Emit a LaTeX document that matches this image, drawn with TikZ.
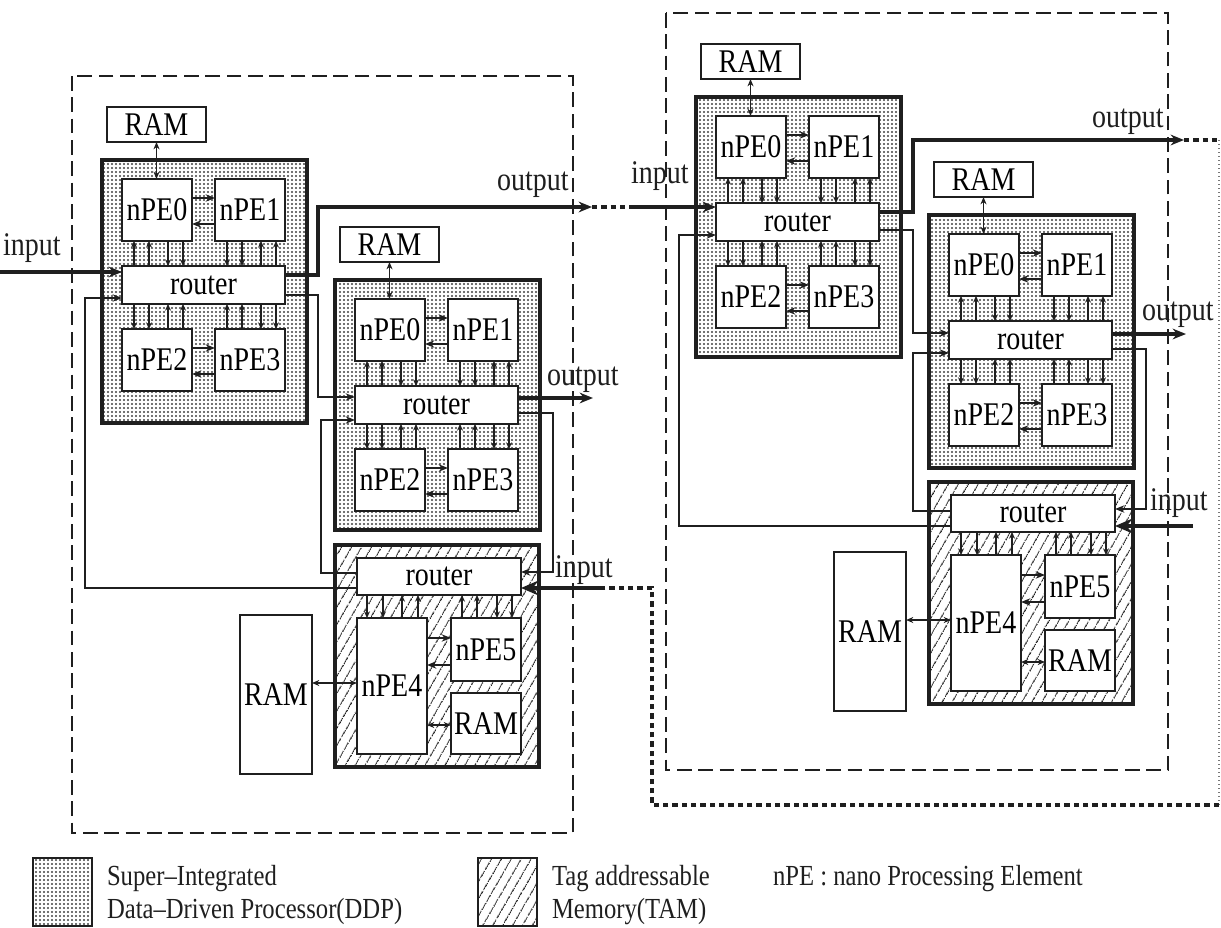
\documentclass[tikz,border=0pt]{standalone}
\usepackage{fontspec}
\setmainfont{Liberation Serif}
\usetikzlibrary{arrows.meta,patterns,patterns.meta,calc}
\definecolor{ink}{gray}{0.12}
\newcommand{\lblfont}{\fontsize{21}{23}\selectfont}
\newcommand{\legfont}{\fontsize{18.5}{22}\selectfont}
\newcommand{\talltext}[1]{\scalebox{1}[1.18]{#1}}
\tikzset{
  bx/.style 2 args={minimum width=#1*0.75pt, minimum height=#2*0.75pt, inner sep=0pt, outer sep=0pt, anchor=north west},
  ddp/.style={draw=ink, line width=2.8pt, pattern={Dots[distance=3pt,radius=0.8pt]}, pattern color=ink!85},
  tam/.style={draw=ink, line width=2.8pt, pattern={Lines[angle=60,distance=6.5pt,line width=0.8pt]}, pattern color=ink},
  pe/.style={draw=ink, fill=white, line width=2.1pt, font=\lblfont},
  rt/.style={draw=ink, fill=white, line width=1.3pt, font=\lblfont},
  ram/.style={draw=ink, fill=white, line width=2.1pt, font=\lblfont},
  lbl/.style={inner sep=0pt, outer sep=0pt, font=\lblfont, text=ink},
  legtxt/.style={inner sep=0pt, outer sep=0pt, font=\legfont, text=ink, anchor=base west},
  outerbox/.style={draw=ink, line width=1.2pt, dash pattern=on 11pt off 5pt},
  dotlink/.style={draw=ink, line width=2.4pt, dash pattern=on 4pt off 3pt},
  faintdot/.style={draw=ink!60, line width=0.9pt, dash pattern=on 1pt off 2pt},
  conn/.style={draw=ink, line width=1.1pt},
  arr/.style={conn, -{Stealth[length=7pt,width=5.5pt]}},
  tipdown/.style={draw=ink, line width=0.9pt, -{Stealth[length=5pt,width=4.5pt]}},
  tipup/.style={draw=ink, line width=0.9pt, {Stealth[length=5pt,width=4.5pt]}-},
  both/.style={conn, {Stealth[length=5.5pt,width=4.5pt]}-{Stealth[length=5.5pt,width=4.5pt]}},
  thickarr/.style={draw=ink, line width=2.6pt, -{Stealth[length=10pt,width=8pt]}},
  bigarr/.style={draw=ink, line width=2.6pt, -{Stealth[length=13pt,width=11pt]}},
}
% #1 prefix, #2 x, #3 y (top-left of DDP box, px), #4 height
\newcommand{\DDPunit}[4]{%
  \node[ddp, bx={205}{#4}] (#1) at (#2,#3) {};
  \node[ram, bx={99}{35}] (#1ram) at ({#2+5},{#3-53}) {\talltext{RAM}};
  \node[pe, bx={70}{62}] (#1n0) at ({#2+20},{#3+19}) {\talltext{nPE0}};
  \node[pe, bx={70}{62}] (#1n1) at ({#2+113},{#3+19}) {\talltext{nPE1}};
  \node[rt, bx={163}{38}] (#1r) at ({#2+20},{#3+106}) {\talltext{router}};
  \node[pe, bx={70}{62}] (#1n2) at ({#2+20},{#3+169}) {\talltext{nPE2}};
  \node[pe, bx={70}{62}] (#1n3) at ({#2+113},{#3+169}) {\talltext{nPE3}};
  \draw[both] (#1ram.south) -- (#1ram.south |- #1n0.north);
  \draw[arr] ([yshift=-14.25pt]#1n0.north east) -- ([yshift=-14.25pt]#1n1.north west);
  \draw[arr] ([yshift=-33.75pt]#1n1.north west) -- ([yshift=-33.75pt]#1n0.north east);
  \draw[arr] ([yshift=-14.25pt]#1n2.north east) -- ([yshift=-14.25pt]#1n3.north west);
  \draw[arr] ([yshift=-33.75pt]#1n3.north west) -- ([yshift=-33.75pt]#1n2.north east);
  \foreach \s/\st in {9/tipup,20.25/tipup,34.5/tipdown,45.75/tipdown}
    \draw[\st] ([xshift=\s pt]#1n0.south west) -- ([xshift=\s pt]#1r.north west);
  \foreach \s/\st in {43.5/tipdown,32.25/tipdown,18/tipup,6.75/tipup}
    \draw[\st] ([xshift=-\s pt]#1n1.south east) -- ([xshift=-\s pt]#1r.north east);
  \foreach \s/\st in {9/tipdown,20.25/tipdown,34.5/tipup,45.75/tipup}
    \draw[\st] ([xshift=\s pt]#1r.south west) -- ([xshift=\s pt]#1n2.north west);
  \foreach \s/\st in {43.5/tipup,32.25/tipup,18/tipdown,6.75/tipdown}
    \draw[\st] ([xshift=-\s pt]#1r.south east) -- ([xshift=-\s pt]#1n3.north east);
}
% #1 prefix, #2 x, #3 y (top-left of TAM box, px)
\newcommand{\TAMunit}[3]{%
  \node[tam, bx={204}{222}] (#1) at (#2,#3) {};
  \node[ram, bx={72}{159}] (#1xram) at ({#2-95},{#3+70}) {\talltext{RAM}};
  \node[rt, bx={164}{37}] (#1r) at ({#2+22},{#3+13}) {\talltext{router}};
  \node[pe, bx={70}{136}] (#1n4) at ({#2+22},{#3+73}) {\talltext{nPE4}};
  \node[pe, bx={70}{63}] (#1n5) at ({#2+116},{#3+73}) {\talltext{nPE5}};
  \node[ram, bx={70}{61}] (#1ram) at ({#2+116},{#3+148}) {\talltext{RAM}};
  \draw[both] ([yshift=-51pt]#1xram.north east) -- ([yshift=-48.75pt]#1n4.north west);
  \draw[arr] ([yshift=-15pt]#1n4.north east) -- ([yshift=-15pt]#1n5.north west);
  \draw[arr] ([yshift=-35.25pt]#1n5.north west) -- ([yshift=-35.25pt]#1n4.north east);
  \draw[both] ([yshift=-80.25pt]#1n4.north east) -- ([yshift=-24pt]#1ram.north west);
  \foreach \s/\st in {7.5/tipdown,19.5/tipdown,33.75/tipup,45.75/tipup}
    \draw[\st] ([xshift=\s pt]#1r.south west) -- ([xshift=\s pt]#1n4.north west);
  \foreach \s/\st in {44.25/tipup,33/tipup,18/tipdown,6.75/tipdown}
    \draw[\st] ([xshift=-\s pt]#1r.south east) -- ([xshift=-\s pt]#1n5.north east);
}
\begin{document}
\begin{tikzpicture}[x=0.75pt, y=-0.75pt]
\useasboundingbox (0,0) rectangle (1221,928);
% outer module frames
\draw[outerbox] (72,76) rectangle (573,833);
\draw[outerbox] (666,13) rectangle (1168,770);
% units
\DDPunit{da}{102}{160}{263}
\DDPunit{db}{335}{280}{250}
\TAMunit{ta}{335}{545}
\DDPunit{dc}{696}{97}{260}
\DDPunit{dd}{929}{215}{253}
\TAMunit{tb}{929}{482}
% coordinates for connectors
\coordinate (in1) at (0,272);
\coordinate (k1) at (318,207);
\coordinate (o1) at (592,207);
\coordinate (i3) at (632,207);
\coordinate (k2) at (318,397);
\coordinate (k3) at (321,420);
\coordinate (k4) at (85,298);
\coordinate (o2) at (593,398);
\coordinate (k5) at (553,572);
\coordinate (i1) at (601,588);
\coordinate (k6) at (913,140);
\coordinate (o3) at (1184,140);
\coordinate (k7) at (913,333);
\coordinate (k8) at (913,353);
\coordinate (k9) at (679,235);
\coordinate (o4) at (1186,334);
\coordinate (k10) at (1146,509);
\coordinate (i2) at (1193,526);
\coordinate (q1) at (1219,140);
\coordinate (q2) at (1219,805);
\coordinate (q3) at (652,805);
\coordinate (q4) at (652,588);
% left module
\draw[thickarr] (in1) -- (in1 -| dar.west);
\draw[thickarr] ([yshift=-6.75pt]dar.north east) -| (k1) -- (o1);
\draw[arr] ([yshift=-21.75pt]dar.north east) -| (k2) -- (k2 -| dbr.west);
\draw[arr] ([yshift=-11.25pt]tar.north west) -| (k3) -- (k3 -| dbr.west);
\draw[arr] ([yshift=-22.5pt]tar.north west) -| (k4) -- (k4 -| dar.west);
\draw[thickarr] (o2 -| dbr.east) -- (o2);
\draw[arr] ([yshift=-20.25pt]dbr.north east) -| (k5) -- (k5 -| tar.east);
\draw[bigarr] (i1) -- (i1 -| tar.east);
% link between modules
\draw[dotlink] (o1) -- (i3);
\draw[thickarr] (i3) -- (i3 -| dcr.west);
\draw[dotlink] (o3) -- (q1);
\draw[faintdot] (q1) -- (q2);
\draw[dotlink] (q2) -- (q3) -- (q4) -- (i1);
% right module
\draw[thickarr] ([yshift=-6.75pt]dcr.north east) -| (k6) -- (o3);
\draw[arr] ([yshift=-20.25pt]dcr.north east) -| (k7) -- (k7 -| ddr.west);
\draw[arr] ([yshift=-12pt]tbr.north west) -| (k8) -- (k8 -| ddr.west);
\draw[arr] ([yshift=-23.25pt]tbr.north west) -| (k9) -- (k9 -| dcr.west);
\draw[thickarr] (o4 -| ddr.east) -- (o4);
\draw[arr] ([yshift=-21pt]ddr.north east) -| (k10) -- (k10 -| tbr.east);
\draw[bigarr] (i2) -- (i2 -| tbr.east);
% labels
\node[lbl, anchor=base west] (Lin1) at (3,255) {\talltext{input}};
\node[lbl, anchor=base west] (Lout1) at (497,190) {\talltext{output}};
\node[lbl, anchor=base west] (Lin3) at (631,183) {\talltext{input}};
\node[lbl, anchor=base west] (Lout2) at (547,385) {\talltext{output}};
\node[lbl, anchor=base west] (Lin4) at (555,577) {\talltext{input}};
\node[lbl, anchor=base west] (Lout3) at (1092,127) {\talltext{output}};
\node[lbl, anchor=base west] (Lout4) at (1142,320) {\talltext{output}};
\node[lbl, anchor=base west] (Lin2) at (1150,510) {\talltext{input}};
% legend
\node[ddp, line width=2pt, bx={59}{68}] (lg1) at (33,858) {};
\node[tam, line width=2pt, bx={59}{68}] (lg2) at (478,858) {};
\node[legtxt] (lt1) at (107,885) {\talltext{Super--Integrated}};
\node[legtxt] (lt2) at (107,918) {\talltext{Data--Driven Processor(DDP)}};
\node[legtxt] (lt3) at (552,885) {\talltext{Tag addressable}};
\node[legtxt] (lt4) at (552,918) {\talltext{Memory(TAM)}};
\node[legtxt] (lt5) at (773,885) {\talltext{nPE : nano Processing Element}};
\end{tikzpicture}
\end{document}
